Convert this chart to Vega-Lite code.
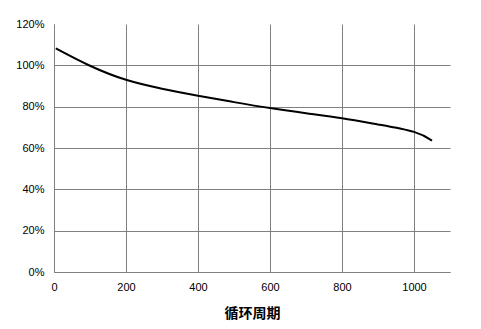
{
  "$schema": "https://vega.github.io/schema/vega-lite/v6.json",
  "width": 396,
  "height": 248,
  "autosize": {"type": "none"},
  "padding": {"left": 54, "top": 24, "right": 31, "bottom": 57},
  "background": "white",
  "config": {"view": {"stroke": null}},
  "data": {"values": [
    {"cycle": 5, "cap": 1.082},
    {"cycle": 100, "cap": 0.998},
    {"cycle": 200, "cap": 0.930},
    {"cycle": 300, "cap": 0.887},
    {"cycle": 400, "cap": 0.853},
    {"cycle": 500, "cap": 0.822},
    {"cycle": 600, "cap": 0.793},
    {"cycle": 700, "cap": 0.768},
    {"cycle": 800, "cap": 0.744},
    {"cycle": 900, "cap": 0.714},
    {"cycle": 1000, "cap": 0.678},
    {"cycle": 1050, "cap": 0.636}
  ]},
  "mark": {"type": "line", "color": "black", "strokeWidth": 2, "interpolate": "natural"},
  "encoding": {
    "x": {
      "field": "cycle", "type": "quantitative",
      "scale": {"domain": [0, 1100], "nice": false},
      "axis": {
        "values": [0, 200, 400, 600, 800, 1000],
        "format": "d",
        "title": "循环周期",
        "titleFont": "Noto Sans CJK SC", "titleFontSize": 14, "titleFontWeight": "bold",
        "titleColor": "black", "titlePadding": 14,
        "labelFont": "Liberation Sans", "labelFontSize": 11, "labelColor": "black",
        "labelPadding": 9, "ticks": false,
        "domainColor": "#808080", "gridColor": "#808080", "gridOpacity": 1,
        "labelFlush": false
      }
    },
    "y": {
      "field": "cap", "type": "quantitative",
      "scale": {"domain": [0, 1.2], "nice": false},
      "axis": {
        "values": [0, 0.2, 0.4, 0.6, 0.8, 1.0, 1.2],
        "format": ".0%",
        "title": null,
        "labelFont": "Liberation Sans", "labelFontSize": 11, "labelColor": "black",
        "labelPadding": 10, "ticks": false,
        "domainColor": "#808080", "gridColor": "#808080",
        "gridOpacity": {"condition": {"test": "datum.value > 1.1", "value": 0}, "value": 1},
        "labelFlush": false
      }
    }
  }
}
